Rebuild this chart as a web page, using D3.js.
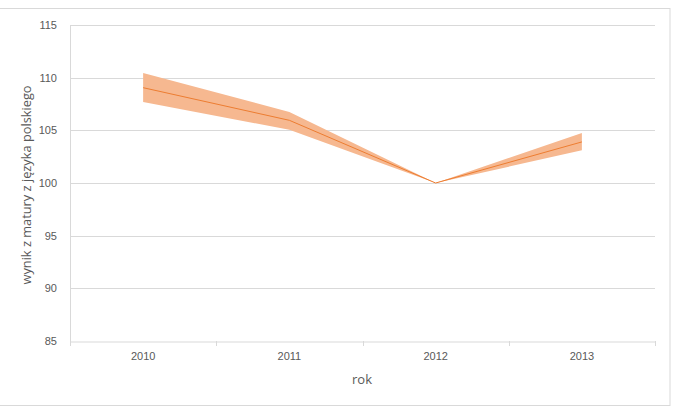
<!DOCTYPE html>
<html><head><meta charset="utf-8">
<script src="https://cdn.jsdelivr.net/npm/d3@7"></script>
<style>body{margin:0;background:#fff;}svg{display:block;font-family:"Open Sans","Liberation Sans",Arial,sans-serif;}</style>
</head><body>
<svg id="c" width="678" height="409"></svg>
<script>
const years = ["2010","2011","2012","2013"];
const mid = [109.05, 105.95, 100.0, 103.9];
const upper = [110.45, 106.75, 100.0, 104.75];
const lower = [107.7, 105.05, 100.0, 103.1];
const yTicks = [85,90,95,100,105,110,115];

const svg = d3.select("#c");
svg.append("rect").attr("x",-1).attr("y",8.5).attr("width",671).attr("height",397)
  .attr("fill","#fff").attr("stroke","#d9d9d9");
const m = {l:70,r:655,t:25,b:341};
const x = d3.scaleBand().domain(years).range([m.l,m.r]);
const y = d3.scaleLinear().domain([85,115]).range([m.b,m.t]);
const cx = d => x(d)+x.bandwidth()/2;

svg.append("g").selectAll("line").data(yTicks.slice(1)).join("line")
  .attr("x1",m.l).attr("x2",m.r).attr("y1",d=>Math.round(y(d))+0.5).attr("y2",d=>Math.round(y(d))+0.5)
  .attr("stroke","#d9d9d9");
svg.append("line").attr("x1",m.l+0.5).attr("x2",m.l+0.5).attr("y1",m.t).attr("y2",m.b).attr("stroke","#d9d9d9");

const yAxis = svg.append("g").attr("transform",`translate(${m.l},0)`)
  .call(d3.axisLeft(y).tickValues(yTicks).tickSize(0).tickPadding(13));
yAxis.select(".domain").remove();
yAxis.selectAll("text").attr("fill","#595959").style("font-size","11px");

const xAxis = svg.append("g").attr("transform",`translate(0,${Math.round(m.b)+0.5})`)
  .call(d3.axisBottom(x).tickSize(0).tickPadding(11));
xAxis.select(".domain").attr("stroke","#d9d9d9");
xAxis.selectAll("text").attr("fill","#595959").style("font-size","11px");
const bounds = years.map(d=>x(d)).concat([m.r]);
svg.append("g").selectAll("line").data(bounds).join("line")
  .attr("x1",d=>Math.round(d)+0.5).attr("x2",d=>Math.round(d)+0.5)
  .attr("y1",m.b).attr("y2",m.b+5).attr("stroke","#d9d9d9");

const data = years.map((d,i)=>({y:d,m:mid[i],u:upper[i],l:lower[i]}));
svg.append("path").datum(data)
  .attr("d",d3.area().x(d=>cx(d.y)).y0(d=>y(d.l)).y1(d=>y(d.u)))
  .attr("fill","#f6b890");
svg.append("path").datum(data)
  .attr("d",d3.line().x(d=>cx(d.y)).y(d=>y(d.m)))
  .attr("fill","none").attr("stroke","#ed7d31").attr("stroke-width",1);

svg.append("text").attr("x",362).attr("y",384).attr("text-anchor","middle")
  .attr("fill","#595959").style("font-size","13px").text("rok");
svg.append("text").attr("transform","translate(31,185) rotate(-90)").attr("text-anchor","middle")
  .attr("fill","#595959").style("font-size","12.8px").text("wynik z matury z języka polskiego");
</script>
</body></html>
